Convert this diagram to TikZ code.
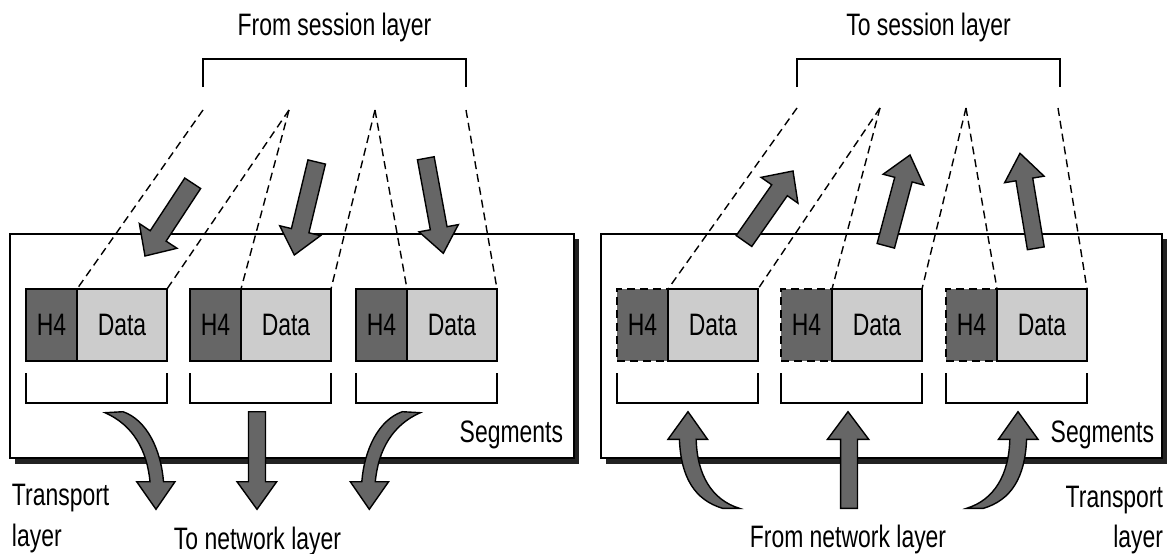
\documentclass[tikz,border=0pt]{standalone}
\usepackage{fontspec}
\setmainfont{Liberation Sans}[FakeStretch=0.74]
\usetikzlibrary{calc}
\definecolor{hdrgray}{HTML}{666666}
\definecolor{datgray}{HTML}{CCCCCC}
\definecolor{arrgray}{HTML}{666666}
\definecolor{shadowcol}{HTML}{222222}
\newcommand\blockarr[5]{%
  \coordinate (ba-t) at #1;
  \coordinate (ba-p) at #2;
  \coordinate (ba-b) at ($(ba-p)!#5!(ba-t)$);
  \draw[arrowshape] ($(ba-t)!#3!90:(ba-p)$) -- ($(ba-b)!#3!-90:(ba-t)$) -- ($(ba-b)!#4!-90:(ba-t)$) -- (ba-p) -- ($(ba-b)!#4!90:(ba-t)$) -- ($(ba-b)!#3!90:(ba-t)$) -- ($(ba-t)!#3!-90:(ba-p)$) -- cycle;}
\begin{document}
\begin{tikzpicture}[x=1pt,y=-1pt,
  every node/.style={font=\fontsize{31}{39}\selectfont, inner sep=0pt, outer sep=0pt},
  hbox/.style={draw, line width=1.8pt, fill=hdrgray, minimum width=51pt, minimum height=72pt, anchor=north west},
  hboxd/.style={hbox, dash pattern=on 8pt off 5pt},
  dbox/.style={draw, line width=1.8pt, fill=datgray, minimum width=90pt, minimum height=72pt, anchor=north west},
  brk/.style={line width=1.6pt},
  topbrk/.style={line width=1.4pt},
  dashln/.style={line width=1.4pt, dash pattern=on 8pt off 5pt},
  outerbox/.style={draw, line width=2pt, fill=white},
  arrowshape/.style={draw=black, line width=1.4pt, fill=arrgray, line join=miter}
]
\useasboundingbox (0,0) rectangle (1168,554);

% ---------- outer boxes ----------
\fill[shadowcol] (15,239) rectangle (579,464);
\draw[outerbox] (10,234) rectangle (574,458);
\fill[shadowcol] (606,239) rectangle (1167,464);
\draw[outerbox] (601,234) rectangle (1162,458);

% ---------- left segments ----------
\node[hbox] (lh1) at (26,289) {H4};
\node[dbox] (ld1) at (77,289) {Data};
\node[hbox] (lh2) at (190,289) {H4};
\node[dbox] (ld2) at (241,289) {Data};
\node[hbox] (lh3) at (356,289) {H4};
\node[dbox] (ld3) at (407,289) {Data};

% ---------- right segments ----------
\node[hboxd] (rh1) at (617,289) {H4};
\node[dbox] (rd1) at (668,289) {Data};
\node[hboxd] (rh2) at (781,289) {H4};
\node[dbox] (rd2) at (832,289) {Data};
\node[hboxd] (rh3) at (946,289) {H4};
\node[dbox] (rd3) at (997,289) {Data};

% ---------- brackets under segments ----------
\foreach \a/\b in {26/167,190/331,356/497,617/758,781/922,946/1087}{
  \draw[brk] (\a,373) -- (\a,403) -- (\b,403) -- (\b,373);
}

% ---------- top brackets ----------
\draw[topbrk] (203,87) -- (203,59) -- (466,59) -- (466,87);
\draw[topbrk] (797,87) -- (797,59) -- (1060,59) -- (1060,87);

% ---------- dashed fan lines ----------
\coordinate (lt1) at (203,110);
\coordinate (lt2) at (289,110);
\coordinate (lt3) at (375,110);
\coordinate (lt4) at (466,110);
\draw[dashln] (lt1) -- (ld1.north west);
\draw[dashln] (lt2) -- (ld1.north east);
\draw[dashln] (lt2) -- (ld2.north west);
\draw[dashln] (lt3) -- (ld2.north east);
\draw[dashln] (lt3) -- (ld3.north west);
\draw[dashln] (lt4) -- (ld3.north east);
\coordinate (rt1) at (797,108);
\coordinate (rt2) at (880,108);
\coordinate (rt3) at (966,108);
\coordinate (rt4) at (1058,108);
\draw[dashln] (rt1) -- (rd1.north west);
\draw[dashln] (rt2) -- (rd1.north east);
\draw[dashln] (rt2) -- (rd2.north west);
\draw[dashln] (rt3) -- (rd2.north east);
\draw[dashln] (rt3) -- (rd3.north west);
\draw[dashln] (rt4) -- (rd3.north east);

% ---------- top block arrows ----------
\blockarr{(192.7,183.3)}{(145,256)}{9.5pt}{22.5pt}{24pt}
\blockarr{(316.7,162)}{(294.3,255)}{9pt}{21pt}{25pt}
\blockarr{(425.8,158.3)}{(443.3,253.3)}{8.5pt}{20pt}{25.5pt}
\blockarr{(744,241)}{(793,171)}{9.5pt}{22.5pt}{23.5pt}
\blockarr{(885.8,245.8)}{(910,155)}{9pt}{21pt}{25.5pt}
\blockarr{(1035.8,248.3)}{(1020,153.3)}{8.5pt}{20pt}{26.5pt}

% ---------- bottom arrows, left ----------
\draw[arrowshape] (105,412.7) -- (123,411.7) .. controls (147,420) and (161,450) .. (163.5,481.7) -- (175,481.7) -- (156,509.3) -- (136.7,481.7) -- (150,481.7) .. controls (147,450) and (133,425) .. (105,412.7) -- cycle;
\draw[arrowshape] (248.5,411.7) -- (265.5,411.7) -- (265.5,481.7) -- (276.7,481.7) -- (257,509.3) -- (237,481.7) -- (248.5,481.7) -- cycle;
\draw[arrowshape] (420.3,412.7) -- (402.3,411.7) .. controls (378.3,420) and (364.3,450) .. (361.8,481.7) -- (350.3,481.7) -- (369.3,509.3) -- (388.6,481.7) -- (375.3,481.7) .. controls (378.3,450) and (392.3,425) .. (420.3,412.7) -- cycle;

% ---------- bottom arrows, right ----------
\draw[arrowshape] (679.4,439.3) -- (668,439.3) -- (688,411.7) -- (707.5,439.3) -- (696.2,439.3) .. controls (697,475) and (712,500) .. (739.4,508.3) -- (722.5,508.3) .. controls (695,500) and (681,478) .. (679.4,439.3) -- cycle;
\draw[arrowshape] (840.6,508.3) -- (840.6,439.3) -- (827.5,439.3) -- (848,411.7) -- (868.7,439.3) -- (857.5,439.3) -- (857.5,508.3) -- cycle;
\draw[arrowshape] (1026.6,439.3) -- (1038,439.3) -- (1018,411.7) -- (998.5,439.3) -- (1009.8,439.3) .. controls (1009,475) and (994,500) .. (966.6,508.3) -- (983.5,508.3) .. controls (1011,500) and (1025,478) .. (1026.6,439.3) -- cycle;

% ---------- labels ----------
\node[anchor=base] (fsl) at (334.5,35) {From session layer};
\node[anchor=base] (tsl) at (928.5,35) {To session layer};
\node[anchor=base east] (lseg) at (563,442) {Segments};
\node[anchor=base east] (rseg) at (1154,442) {Segments};
\node[anchor=base west] (ltr1) at (12,505) {Transport};
\node[anchor=base west] (ltr2) at (12,546) {layer};
\node[anchor=base east] (rtr1) at (1163,507) {Transport};
\node[anchor=base east] (rtr2) at (1163,547) {layer};
\node[anchor=base] (tnl) at (257.5,549) {To network layer};
\node[anchor=base] (fnl) at (848,547) {From network layer};
\end{tikzpicture}
\end{document}
